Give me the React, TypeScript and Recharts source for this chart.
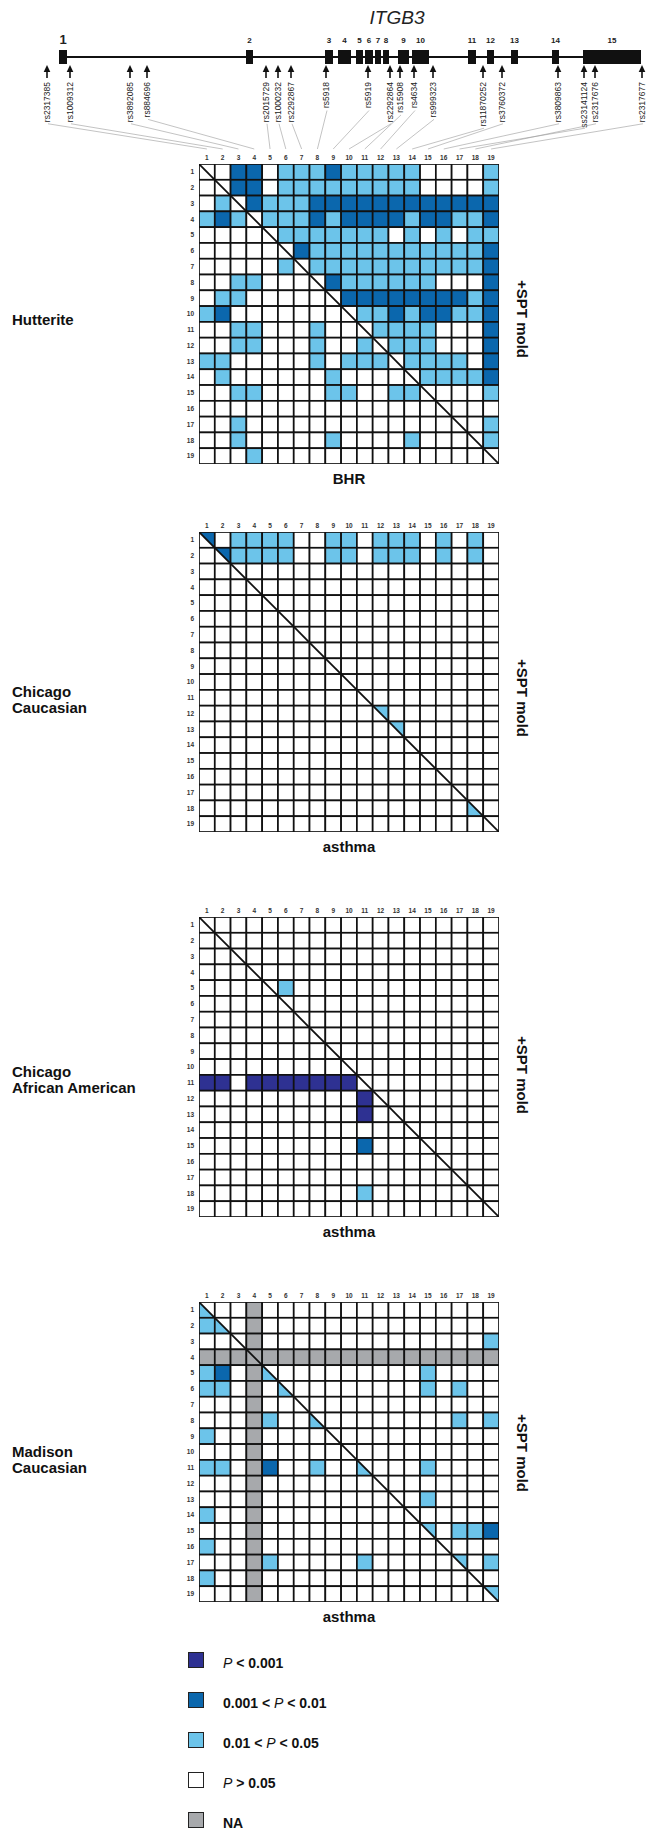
import { ScatterChart, Scatter, XAxis, YAxis, ReferenceArea, ReferenceLine } from 'recharts';

// SNPs typed along ITGB3 (position in kb from the first SNP)
const SNP_NAMES = [
  'rs2317385', 'rs1009312', 'rs3892085', 'rs884696', 'rs2015729', 'rs1000232', 'rs2292867',
  'rs5918', 'rs5919', 'rs2292864', 'rs15908', 'rs4634', 'rs999323', 'rs11870252', 'rs3760372',
  'rs3809863', 'ss23141124', 'rs2317676', 'rs2317677',
];
const SNP_KB = [0.0, 2.3, 8.3, 10.0, 21.9, 23.1, 24.4, 27.9, 32.1, 34.3, 35.3, 36.7, 38.6, 43.6, 45.5, 51.1, 53.7, 54.8, 59.5];

const EXON_LABELS = ['1', '2', '3', '4', '5', '6', '7', '8', '9', '10', '11', '12', '13', '14', '15'];
const EXON_START_KB = [1.2, 19.9, 27.8, 29.1, 30.9, 31.8, 32.8, 33.6, 35.1, 36.5, 42.1, 44.0, 46.4, 50.5, 53.6];
const EXON_END_KB = [2.0, 20.6, 28.6, 30.4, 31.6, 32.6, 33.4, 34.2, 36.2, 38.2, 42.9, 44.7, 47.1, 51.2, 59.4];

const SNP_INDEX = Array.from({ length: 19 }, (_, i) => i + 1);

// '.' P > 0.05, 'l' 0.01-0.05, 'm' 0.001-0.01, 'd' < 0.001, 'g' NA
// diagonal: 'u'/'U' light/medium upper half, 'w' light lower half
const HUTTERITE = [
  '..mm.lllmlllll....l',
  '..mm.lllllllll....l',
  '.l.mlllmmmmmmmmmmmm',
  'lml.lllmlmmmmlmmllm',
  '.....lllllll.l.l.ll',
  '......mlllllllllllm',
  '.....l.lllllllllllm',
  '..ll....mllllll...m',
  '.ll......mmmmmmmmlm',
  'lm........llmlmmllm',
  '..ll...l...llll...m',
  '..ll...l..l.lll...m',
  'll.....l.lll.llll.m',
  '.l......l.....llllm',
  '..ll....ll..ll....l',
  '...................',
  '..l...............l',
  '..l.....l....l....l',
  '...l...............',
];

const CHICAGO_CAUCASIAN = [
  'UMllll..ll.lll.l.l.',
  '.Ullll..ll.lll.l.l.',
  '...................',
  '...................',
  '...................',
  '...................',
  '...................',
  '...................',
  '...................',
  '...................',
  '...................',
  '...........u.......',
  '............u......',
  '...................',
  '...................',
  '...................',
  '...................',
  '.................w.',
  '...................',
];

const CHICAGO_AFRICAN_AMERICAN = [
  '...................',
  '...................',
  '...................',
  '...................',
  '.....l.............',
  '...................',
  '...................',
  '...................',
  '...................',
  '...................',
  'dd.ddddddd.........',
  '..........d........',
  '..........d........',
  '...................',
  '..........m........',
  '...................',
  '...................',
  '..........l........',
  '...................',
];

const MADISON_CAUCASIAN = [
  'w..g...............',
  'lw.g...............',
  '...g..............l',
  'ggggggggggggggggggg',
  'lm.gw.........l....',
  'll.g.w........l.l..',
  '...g...............',
  '...gl..w........l.l',
  'l..g...............',
  '...g...............',
  'll.gm..l..w...l....',
  '...g...............',
  '...g..........l....',
  'l..g...............',
  '...g..........u.llm',
  'l..g...............',
  '...gl.....l.....u.l',
  'l..g...............',
  '...g..............u',
];

const LEGEND_LABELS = ['P < 0.001', '0.001 < P < 0.01', '0.01 < P < 0.05', 'P > 0.05', 'NA'];
const LEGEND_CODES = ['d', 'm', 'l', '.', 'g'];

const NAVY = '#2e3192';
const MED = '#0b67ad';
const LIGHT = '#6cc4ea';
const GRAY = '#a7a9ac';
const INK = '#111';
const FILL: Record<string, string> = { '.': '#fff', l: LIGHT, m: MED, d: NAVY, g: GRAY };

const FONT = '"Liberation Sans", Arial, sans-serif';
const GRID_LEFT = 199;
const GRID = 300;
const CELL = GRID / 19;
const Y_W = 20;
const X_H = 14;

function CellShape(props: any) {
  const { cx, cy, payload } = props;
  const h = CELL / 2;
  const x0 = cx - h;
  const y0 = cy - h;
  const x1 = cx + h;
  const y1 = cy + h;
  const code: string = payload.code;
  const diag = payload.row === payload.col;
  let fill = FILL[code] ?? '#fff';
  let tri = null;
  if (code === 'u' || code === 'U') {
    fill = '#fff';
    tri = <polygon points={`${x0},${y0} ${x1},${y0} ${x1},${y1}`} fill={code === 'u' ? LIGHT : MED} />;
  } else if (code === 'w') {
    fill = '#fff';
    tri = <polygon points={`${x0},${y0} ${x0},${y1} ${x1},${y1}`} fill={LIGHT} />;
  }
  return (
    <g>
      <rect x={x0} y={y0} width={CELL} height={CELL} fill={fill} />
      {tri}
      {diag && <line x1={x0} y1={y0} x2={x1} y2={y1} stroke={INK} strokeWidth={1.8} />}
      <rect x={x0} y={y0} width={CELL} height={CELL} fill="none" stroke={INK} strokeWidth={1.7} />
    </g>
  );
}

const tickStyle = { fontSize: 6.5, fill: '#333', fontWeight: 600 };

function Matrix({ rows, top }: { rows: string[]; top: number }) {
  const data: { row: number; col: number; code: string }[] = [];
  rows.forEach((r, i) => r.split('').forEach((c, j) => data.push({ row: i + 1, col: j + 1, code: c })));
  return (
    <div style={{ position: 'absolute', left: GRID_LEFT - Y_W, top: top - X_H }}>
      <ScatterChart width={Y_W + GRID + 4} height={X_H + GRID + 4} margin={{ top: 0, right: 4, bottom: 4, left: 0 }}>
        <XAxis
          type="number"
          dataKey="col"
          orientation="top"
          domain={[0.5, 19.5]}
          ticks={SNP_INDEX}
          interval={0}
          height={X_H}
          axisLine={false}
          tickLine={false}
          tickSize={2}
          tickMargin={2}
          tick={tickStyle}
          allowDataOverflow
        />
        <YAxis
          type="number"
          dataKey="row"
          domain={[0.5, 19.5]}
          reversed
          ticks={SNP_INDEX}
          interval={0}
          width={Y_W}
          axisLine={false}
          tickLine={false}
          tickSize={2}
          tickMargin={3}
          tick={tickStyle}
          allowDataOverflow
        />
        <Scatter data={data} shape={CellShape} isAnimationActive={false} />
      </ScatterChart>
    </div>
  );
}

const ARROW_TIP = 65;
const LABEL_TOP = 82;
const SNP_FONT = 8.5;

function SnpShape(props: any) {
  const { cx, cy, payload } = props;
  const len = payload.name.length * 0.52 * SNP_FONT;
  const colX = GRID_LEFT + (payload.index + 0.5) * CELL;
  return (
    <g>
      <polygon points={`${cx},${cy} ${cx - 3.3},${cy + 7} ${cx + 3.3},${cy + 7}`} fill={INK} />
      <line x1={cx} y1={cy + 6} x2={cx} y2={cy + 13} stroke={INK} strokeWidth={1.6} />
      <text
        x={cx}
        y={LABEL_TOP}
        dy="0.35em"
        textAnchor="end"
        fontSize={SNP_FONT}
        fill="#222"
        transform={`rotate(-90, ${cx}, ${LABEL_TOP})`}
      >
        {payload.name}
      </text>
      <line x1={cx + 1} y1={LABEL_TOP + len + 2} x2={colX} y2={149} stroke="#9a9a9a" strokeWidth={0.6} />
    </g>
  );
}

function GeneMap() {
  const snpData = SNP_NAMES.map((name, index) => ({ name, index, kb: SNP_KB[index], y: ARROW_TIP }));
  return (
    <div style={{ position: 'absolute', left: 0, top: 0 }}>
      <ScatterChart width={649} height={160} margin={{ top: 0, right: 0, bottom: 0, left: 0 }}>
        <XAxis type="number" dataKey="kb" domain={[-4.7, 60.2]} hide height={0} allowDataOverflow />
        <YAxis type="number" dataKey="y" domain={[0, 160]} reversed hide width={0} allowDataOverflow />
        <ReferenceLine
          segment={[{ x: EXON_START_KB[0], y: 57 }, { x: EXON_END_KB[EXON_END_KB.length - 1], y: 57 }]}
          stroke={INK}
          strokeWidth={2}
        />
        {EXON_LABELS.map((lab, i) => (
          <ReferenceArea
            key={lab}
            x1={EXON_START_KB[i]}
            x2={EXON_END_KB[i]}
            y1={50}
            y2={64}
            fill={INK}
            fillOpacity={1}
            stroke="none"
            label={{
              value: lab,
              position: 'top',
              offset: i === 0 ? 6 : 7,
              fontSize: i === 0 ? 13 : 8,
              fontWeight: 'bold',
              fill: '#222',
            }}
          />
        ))}
        <Scatter data={snpData} shape={SnpShape} isAnimationActive={false} />
      </ScatterChart>
    </div>
  );
}

const PANELS = [
  { name: ['Hutterite'], rows: HUTTERITE, top: 164, xLabel: 'BHR', nameY: 320, moldY: 319 },
  { name: ['Chicago', 'Caucasian'], rows: CHICAGO_CAUCASIAN, top: 532, xLabel: 'asthma', nameY: 700, moldY: 698 },
  { name: ['Chicago', 'African American'], rows: CHICAGO_AFRICAN_AMERICAN, top: 917, xLabel: 'asthma', nameY: 1080, moldY: 1075 },
  { name: ['Madison', 'Caucasian'], rows: MADISON_CAUCASIAN, top: 1302, xLabel: 'asthma', nameY: 1460, moldY: 1453 },
];

function italicP(label: string) {
  const parts = label.split('P');
  return parts.map((p, i) => (
    <span key={i}>
      {i > 0 && <i style={{ fontWeight: 'normal' }}>P</i>}
      {p}
    </span>
  ));
}

export default function App() {
  return (
    <div
      style={{
        position: 'absolute',
        left: 0,
        top: 0,
        width: 649,
        height: 1834,
        overflow: 'hidden',
        background: '#fff',
        fontFamily: FONT,
        color: INK,
      }}
    >
      <div
        style={{
          position: 'absolute',
          left: 367,
          top: 7,
          width: 60,
          textAlign: 'center',
          fontSize: 19,
          fontStyle: 'italic',
          lineHeight: '22px',
          color: '#222',
        }}
      >
        ITGB3
      </div>
      <GeneMap />
      {PANELS.map(p => (
        <div key={p.top}>
          <Matrix rows={p.rows} top={p.top} />
          <div
            style={{
              position: 'absolute',
              left: 12,
              top: p.nameY - (p.name.length * 16) / 2,
              fontSize: 15,
              fontWeight: 'bold',
              lineHeight: '16px',
              whiteSpace: 'nowrap',
            }}
          >
            {p.name.map(n => (
              <div key={n}>{n}</div>
            ))}
          </div>
          <div
            style={{
              position: 'absolute',
              left: GRID_LEFT,
              width: GRID,
              top: p.top + GRID + 6,
              textAlign: 'center',
              fontSize: 15,
              fontWeight: 'bold',
              lineHeight: '18px',
            }}
          >
            {p.xLabel}
          </div>
          <div
            style={{
              position: 'absolute',
              left: 522,
              top: p.moldY,
              transform: 'translate(-50%, -50%) rotate(90deg)',
              fontSize: 15,
              fontWeight: 'bold',
              whiteSpace: 'nowrap',
              lineHeight: '16px',
            }}
          >
            +SPT mold
          </div>
        </div>
      ))}
      {LEGEND_LABELS.map((lab, i) => (
        <div key={lab}>
          <div
            style={{
              position: 'absolute',
              left: 188,
              top: 1652 + i * 40,
              width: 14,
              height: 14,
              background: FILL[LEGEND_CODES[i]],
              border: '1.5px solid #222',
            }}
          />
          <div
            style={{
              position: 'absolute',
              left: 223,
              top: 1657.5 + i * 40,
              fontSize: 14,
              fontWeight: 'bold',
              lineHeight: '10px',
              whiteSpace: 'nowrap',
            }}
          >
            {italicP(lab)}
          </div>
        </div>
      ))}
    </div>
  );
}
